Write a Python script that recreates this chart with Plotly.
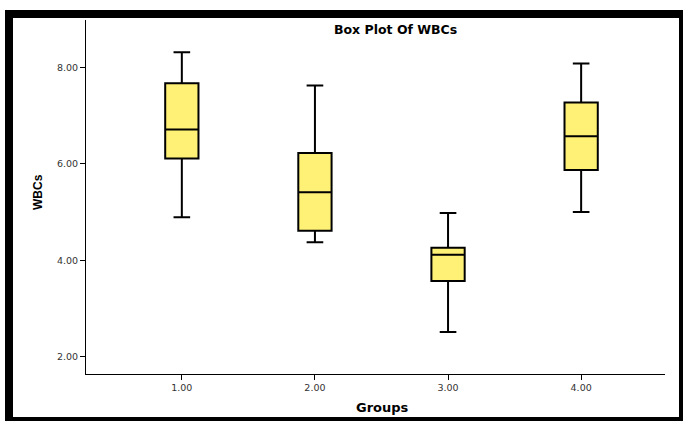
import plotly.graph_objects as go

groups = [1.0, 2.0, 3.0, 4.0]
lower_whisker = [4.89, 4.37, 2.51, 5.00]
q1_values = [6.11, 4.61, 3.57, 5.87]
median_values = [6.71, 5.41, 4.11, 6.57]
q3_values = [7.67, 6.22, 4.26, 7.27]
upper_whisker = [8.31, 7.62, 4.98, 8.08]
x_tick_vals = [1, 2, 3, 4]
x_tick_text = ["1.00", "2.00", "3.00", "4.00"]
y_tick_vals = [2, 4, 6, 8]
y_tick_text = ["2.00", "4.00", "6.00", "8.00"]

W, H = 683, 421
L, R, T, B = 86, 665, 20, 374

fig = go.Figure()
fig.add_trace(go.Box(
    x=groups,
    q1=q1_values, median=median_values, q3=q3_values,
    lowerfence=lower_whisker, upperfence=upper_whisker,
    width=0.25, whiskerwidth=0.5,
    fillcolor="#FFF176",
    line=dict(color="black", width=2),
    boxpoints=False, showlegend=False, hoverinfo="skip",
))

def px_x(p):
    return (p - L) / (R - L)

def px_y(p):
    return (B - p) / (B - T)

shapes = []
for (x0, x1, y0, y1) in [(5, 13, 10, 421), (5, 683, 10, 18), (679, 683, 10, 421), (5, 683, 417, 421)]:
    shapes.append(dict(type="rect", xref="paper", yref="paper",
                       x0=px_x(x0), x1=px_x(x1), y0=px_y(y1), y1=px_y(y0),
                       fillcolor="black", line=dict(width=0), layer="above"))

tickfont = dict(family="DejaVu Sans", size=9.5, color="#333")

fig.update_layout(
    width=W, height=H,
    margin=dict(l=L, r=W - R, t=T, b=H - B, pad=0),
    paper_bgcolor="white", plot_bgcolor="white",
    shapes=shapes,
    xaxis=dict(range=[0.28, 4.63], tickvals=x_tick_vals, ticktext=x_tick_text,
               showline=True, linecolor="black", linewidth=1, mirror=False,
               showgrid=False, zeroline=False, ticks="outside", ticklen=5,
               tickcolor="black", tickfont=tickfont),
    yaxis=dict(range=[1.64, 8.98], tickvals=y_tick_vals, ticktext=y_tick_text,
               showline=True, linecolor="black", linewidth=1, mirror=False,
               showgrid=False, zeroline=False, ticks="outside", ticklen=5,
               tickcolor="black", tickfont=tickfont),
    annotations=[
        dict(text="<b>Box Plot Of WBCs</b>", xref="paper", yref="paper",
             x=px_x(395), y=px_y(30), showarrow=False, xanchor="center", yanchor="middle",
             font=dict(family="DejaVu Sans", size=12.5, color="black")),
        dict(text="<b>Groups</b>", xref="paper", yref="paper",
             x=px_x(382), y=px_y(407), showarrow=False, xanchor="center", yanchor="middle",
             font=dict(family="DejaVu Sans", size=13, color="black")),
        dict(text="<b>WBCs</b>", xref="paper", yref="paper", textangle=-90,
             x=px_x(38), y=px_y(192), showarrow=False, xanchor="center", yanchor="middle",
             font=dict(family="Liberation Sans, Arial", size=12, color="black")),
    ],
)

fig.write_html("out.html", config={"displayModeBar": False},
               post_script="document.body.style.margin='0';document.body.style.overflow='hidden';")
